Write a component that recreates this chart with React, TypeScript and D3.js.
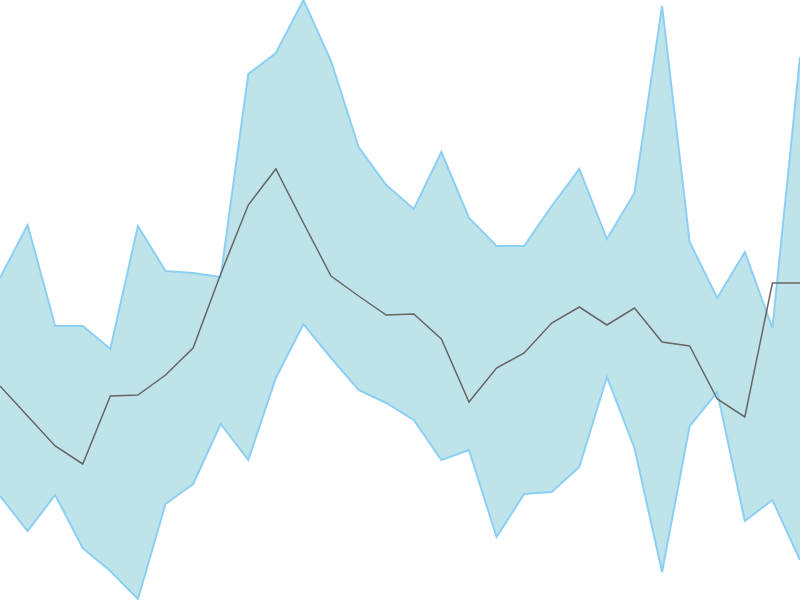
import React, { useEffect } from "react";
import * as d3 from "d3";

const WIDTH = 800;
const HEIGHT = 600;

// values in data units (0 = bottom, 600 = top)
const upperValues = [322, 375, 274, 274, 251, 374, 329, 327, 323, 526, 547, 600, 539, 453, 415, 391, 448, 382, 354, 354, 394, 431, 361, 407, 594, 358, 302, 348, 272, 543];
const lowerValues = [104, 69, 105, 52, 29, 1, 96, 116, 176, 140, 222, 276, 242, 210, 197, 180, 140, 150, 63, 106, 108, 133, 223, 152, 28, 174, 208, 79, 100, 40];
const lineValues = [214, 184, 154, 136, 204, 205, 225, 252, 326, 395, 431, 377, 324, 304, 285, 286, 261, 198, 232, 247, 277, 293, 275, 292, 258, 254, 201, 183, 317, 317];

const indices = d3.range(upperValues.length);

export default function App() {
  useEffect(() => {
    document.body.style.margin = "0";
  }, []);

  const x = d3.scaleLinear().domain([0, indices.length - 1]).range([0, WIDTH]);
  const y = d3.scaleLinear().domain([0, 600]).range([HEIGHT, 0]);

  const area = d3
    .area<number>()
    .x((i) => x(i))
    .y0((i) => y(lowerValues[i]))
    .y1((i) => y(upperValues[i]));

  const upperLine = d3.line<number>().x((i) => x(i)).y((i) => y(upperValues[i]));
  const lowerLine = d3.line<number>().x((i) => x(i)).y((i) => y(lowerValues[i]));
  const midLine = d3.line<number>().x((i) => x(i)).y((i) => y(lineValues[i]));

  return (
    <svg width={WIDTH} height={HEIGHT} style={{ display: "block", position: "absolute", left: 0, top: 0 }}>
      <path d={area(indices) || ""} fill="#bee4ea" stroke="none" />
      <path d={upperLine(indices) || ""} fill="none" stroke="#8ccff5" strokeWidth={2} />
      <path d={lowerLine(indices) || ""} fill="none" stroke="#8ccff5" strokeWidth={2} />
      <path d={midLine(indices) || ""} fill="none" stroke="#666666" strokeWidth={1.5} />
    </svg>
  );
}
